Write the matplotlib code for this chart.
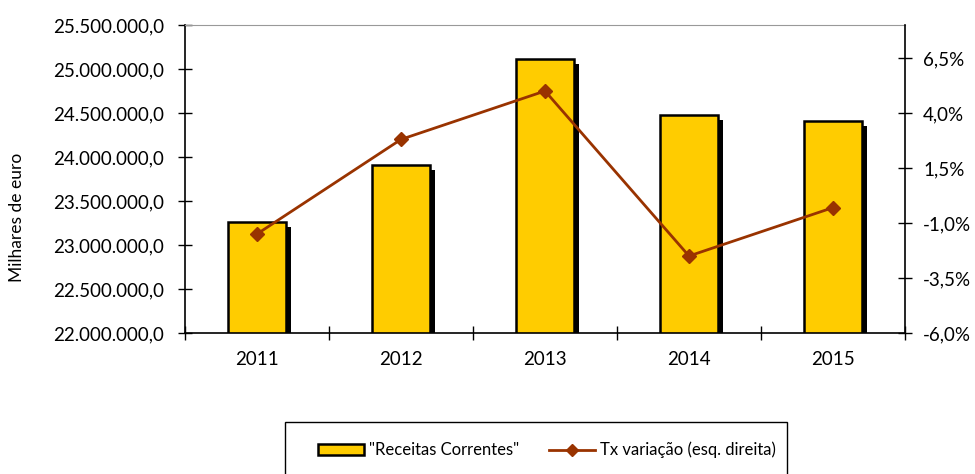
import matplotlib.pyplot as plt
from matplotlib.ticker import FuncFormatter, MultipleLocator, FixedLocator
from matplotlib.transforms import ScaledTranslation
from matplotlib.patches import Rectangle
from matplotlib.lines import Line2D
from matplotlib.patches import Patch

years = ['2011', '2012', '2013', '2014', '2015']
receitas = [23260000, 23910000, 25110000, 24480000, 24410000]
tx_variacao = [-1.5, 2.8, 5.0, -2.5, -0.3]

plt.rcParams['font.family'] = ['Lato', 'DejaVu Sans']
fs = 13.5

def pt_num(v, pos):
    return f"{v:,.1f}".replace(',', 'X').replace('.', ',').replace('X', '.')

def pt_pct(v, pos):
    return f"{v:.1f}%".replace('.', ',')

fig = plt.figure(figsize=(9.75, 4.74), dpi=100)
ax = fig.add_axes([185/975, 1-333/474, 720/975, 308/474])
x = list(range(len(years)))

shadow = ax.transData + ScaledTranslation(5/100, -5/100, fig.dpi_scale_trans)
ax.bar(x, receitas, width=0.4, color='black', transform=shadow, zorder=1)
ax.bar(x, receitas, width=0.4, color='#FFCC00', edgecolor='black', linewidth=1.8, zorder=2)
ax.set_ylim(22000000, 25500000)
ax.set_xlim(-0.5, 4.5)
ax.yaxis.set_major_locator(MultipleLocator(500000))
ax.yaxis.set_major_formatter(FuncFormatter(pt_num))
ax.set_xticks(x)
ax.set_xticklabels(years)
ax.xaxis.set_minor_locator(FixedLocator([i + 0.5 for i in range(-1, 5)]))
ax.tick_params(axis='x', which='major', length=0, labelsize=fs, pad=13)
ax.tick_params(axis='x', which='minor', direction='inout', length=10, width=1)
ax.tick_params(axis='y', direction='inout', length=10, width=1, labelsize=fs, pad=10)
ax.set_ylabel('Milhares de euro', fontsize=12.5)
ax.yaxis.set_label_coords(-0.222, 0.377)
ax.spines['top'].set_color('#999999')
ax.spines['right'].set_visible(False)
for s in ['left', 'bottom']:
    ax.spines[s].set_linewidth(1.2)

ax2 = ax.twinx()
ax2.plot(x, tx_variacao, color='#993300', linewidth=2, marker='D', markersize=7)
ax2.set_ylim(-6, 8)
ax2.yaxis.set_major_locator(FixedLocator([-6, -3.5, -1, 1.5, 4, 6.5]))
ax2.yaxis.set_major_formatter(FuncFormatter(pt_pct))
ax2.tick_params(axis='y', direction='inout', length=10, width=1, labelsize=fs, pad=8)
ax2.spines['right'].set_linewidth(1.2)
ax2.spines['top'].set_visible(False)
ax2.spines['left'].set_visible(False)
ax2.spines['bottom'].set_visible(False)

fig.patches.append(Rectangle((285/975, -0.05), 502/975, 1-422/474+0.05, transform=fig.transFigure,
                             fill=False, edgecolor='black', linewidth=1))
handles = [Patch(facecolor='#FFCC00', edgecolor='black', linewidth=1.8),
           Line2D([], [], color='#993300', linewidth=2, marker='D', markersize=6)]
fig.legend(handles, ['"Receitas Correntes"', 'Tx variação (esq. direita)'], loc='center',
           bbox_to_anchor=(547/975, 1-450/474), ncol=2, frameon=False, fontsize=12,
           handlelength=2.75, handleheight=0.6, columnspacing=1.8, handletextpad=0.3)

fig.savefig('out.png', dpi=100)
